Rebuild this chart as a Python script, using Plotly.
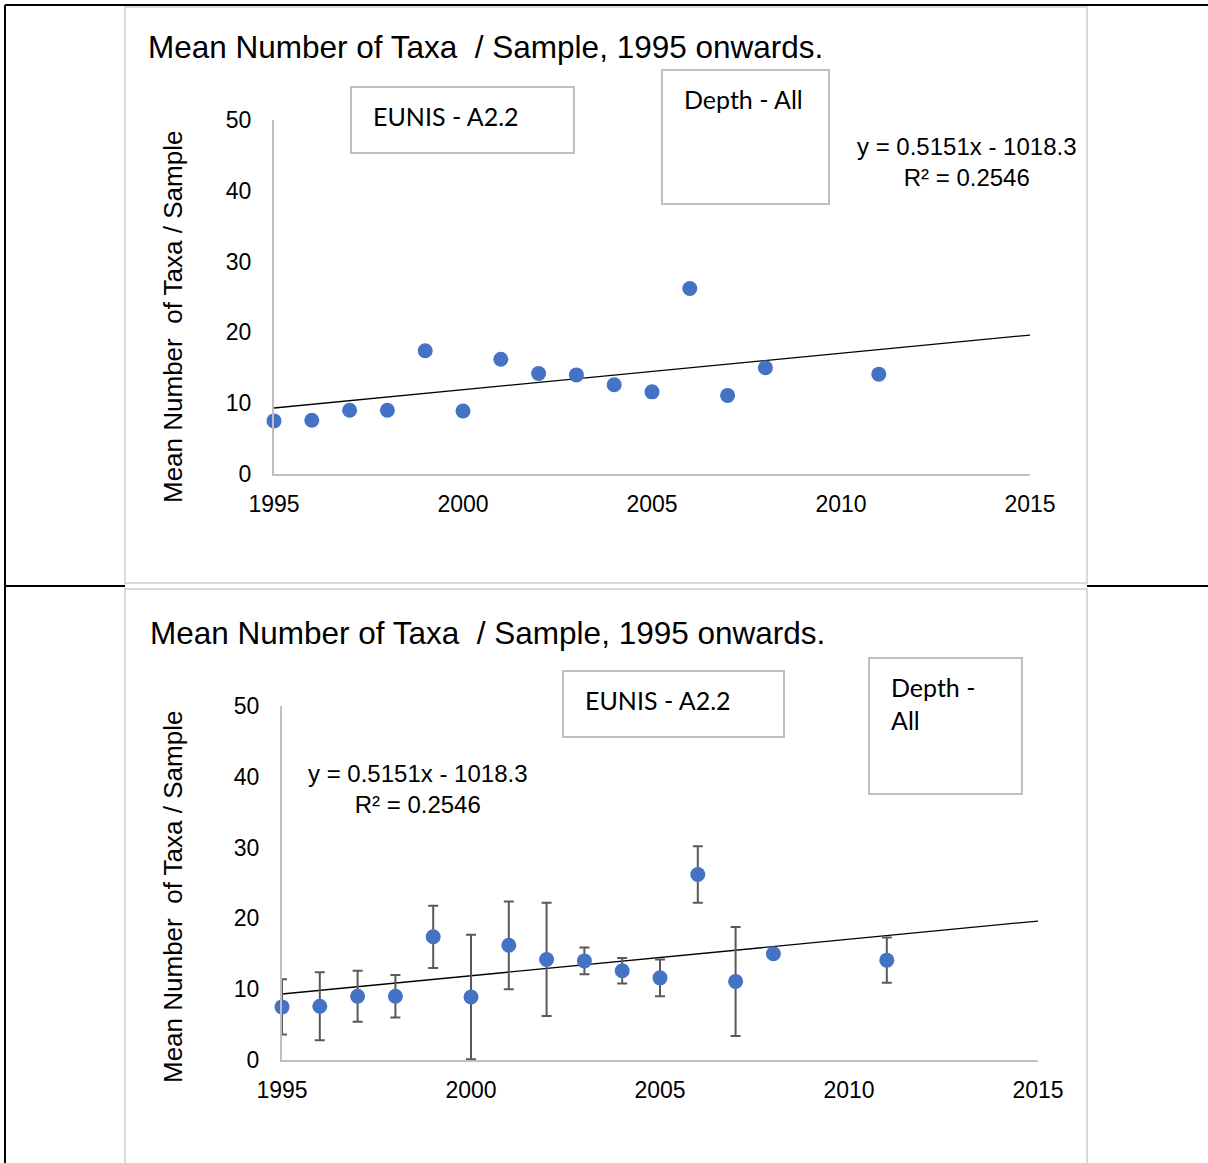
import plotly.graph_objects as go

W, H = 1208, 1163

# ---- data ----
years = [1995, 1996, 1997, 1998, 1999, 2000, 2001, 2002, 2003, 2004, 2005, 2006, 2007, 2008, 2011]
mean_taxa = [7.5, 7.6, 9.0, 9.0, 17.4, 8.9, 16.2, 14.2, 14.0, 12.6, 11.6, 26.2, 11.1, 15.0, 14.1]
err_taxa = [3.9, 4.8, 3.6, 3.0, 4.4, 8.8, 6.2, 8.0, 1.9, 1.8, 2.6, 4.0, 7.7, 0.0, 3.2]
trend_slope = 0.5151
trend_intercept = -1018.3
trend_r2 = 0.2546
x_range = [1995, 2015]
y_range = [0, 50]
x_ticks = [1995, 2000, 2005, 2010, 2015]
y_ticks = [0, 10, 20, 30, 40, 50]
title_text = "Mean Number of Taxa&nbsp; / Sample, 1995 onwards."
ytitle_text = "Mean Number&nbsp; of Taxa / Sample"
eunis_text = "EUNIS - A2.2"
depth_text_1 = "Depth - All"
depth_text_2 = "Depth -<br>All"
eq_text = "y = 0.5151x - 1018.3<br>R² = 0.2546"

trend_x = list(x_range)
trend_y = [trend_slope * v + trend_intercept for v in trend_x]

def px(x):
    return x / W

def py(y):
    return 1 - y / H

BLUE = "#4472C4"
FONT = "Liberation Sans, Arial, sans-serif"
CAL = "Lato, Carlito, Calibri, sans-serif"

fig = go.Figure()
shapes = []
annotations = []

# outer table lines
for (x0, y0, x1, y1) in [(5, 5, 1208, 5), (5, 5, 5, 1163), (5, 586, 125, 586), (1087, 586, 1208, 586)]:
    shapes.append(dict(type="line", xref="paper", yref="paper", x0=px(x0), y0=py(y0), x1=px(x1), y1=py(y1),
                       line=dict(color="black", width=2), layer="below"))

charts = [
    dict(panel=(125, 7, 1087, 583), plot=(274, 120, 1030, 474), errors=False,
         title=(146, 47), ytitle=(173, 317),
         eunis_box=(351, 87, 574, 153), depth_box=(662, 70, 829, 204), depth_text=depth_text_1,
         eq=(967, 162)),
    dict(panel=(125, 589, 1087, 1175), plot=(282, 706, 1038, 1060), errors=True,
         title=(148, 633), ytitle=(173, 897),
         eunis_box=(563, 671, 784, 737), depth_box=(869, 658, 1022, 794), depth_text=depth_text_2,
         eq=(418, 789)),
]

for i, c in enumerate(charts):
    n = "" if i == 0 else str(i + 1)
    xa, ya = "x" + n, "y" + n
    x0, y0, x1, y1 = c["panel"]
    shapes.append(dict(type="rect", xref="paper", yref="paper", x0=px(x0), y0=py(y0), x1=px(x1), y1=py(y1),
                       line=dict(color="#d9d9d9", width=2), fillcolor="white", layer="below"))
    p0, q0, p1, q1 = c["plot"]
    axis_common = dict(showgrid=False, zeroline=False, showline=True, linecolor="#bfbfbf", linewidth=2,
                       ticks="", tickfont=dict(family=FONT, size=23, color="#000"), fixedrange=True,
                       automargin=False)
    fig.update_layout(**{
        ("xaxis" + n): dict(domain=[px(p0), px(p1)], range=x_range, tickvals=x_ticks, anchor=ya,
                            ticklabelstandoff=8, **axis_common),
        ("yaxis" + n): dict(domain=[py(q1), py(q0)], range=y_range, tickvals=y_ticks, anchor=xa,
                            ticklabelstandoff=16, **axis_common),
    })
    fig.add_trace(go.Scatter(x=trend_x, y=trend_y, mode="lines", line=dict(color="black", width=1.3),
                             xaxis=xa, yaxis=ya, showlegend=False, hoverinfo="skip", cliponaxis=False))
    err = dict(type="data", array=err_taxa, visible=True, color="#595959", thickness=2, width=5) if c["errors"] else None
    fig.add_trace(go.Scatter(x=years, y=mean_taxa, mode="markers", marker=dict(color=BLUE, size=15),
                             error_y=err, xaxis=xa, yaxis=ya, showlegend=False, cliponaxis=False))
    # title
    tx, ty = c["title"]
    annotations.append(dict(text=title_text, xref="paper", yref="paper", x=px(tx), y=py(ty), xanchor="left",
                            yanchor="middle", showarrow=False, font=dict(family=FONT, size=31.5, color="#000")))
    # y title
    yx, yy = c["ytitle"]
    annotations.append(dict(text=ytitle_text, xref="paper", yref="paper", x=px(yx), y=py(yy), xanchor="center",
                            yanchor="middle", textangle=-90, showarrow=False,
                            font=dict(family=FONT, size=26, color="#000")))
    # boxes
    for (bx0, by0, bx1, by1), txt in [(c["eunis_box"], eunis_text), (c["depth_box"], c["depth_text"])]:
        shapes.append(dict(type="rect", xref="paper", yref="paper", x0=px(bx0), y0=py(by0), x1=px(bx1), y1=py(by1),
                           line=dict(color="#bfbfbf", width=2), fillcolor="white", layer="above"))
        annotations.append(dict(text=txt, xref="paper", yref="paper", x=px(bx0 + 20), y=py(by0 + 12),
                                xanchor="left", yanchor="top", align="left", showarrow=False,
                                font=dict(family=CAL, size=25, color="#000")))
    ex, ey = c["eq"]
    annotations.append(dict(text=eq_text, xref="paper", yref="paper", x=px(ex), y=py(ey), xanchor="center",
                            yanchor="middle", align="center", showarrow=False,
                            font=dict(family=FONT, size=24, color="#000")))

fig.update_layout(width=W, height=H, margin=dict(l=0, r=0, t=0, b=0, pad=0), paper_bgcolor="white",
                  plot_bgcolor="rgba(0,0,0,0)", shapes=shapes, annotations=annotations, autosize=False)

fig.write_html("out.html", config={"displayModeBar": False},
               post_script="document.body.style.margin='0';document.body.style.overflow='hidden';")
